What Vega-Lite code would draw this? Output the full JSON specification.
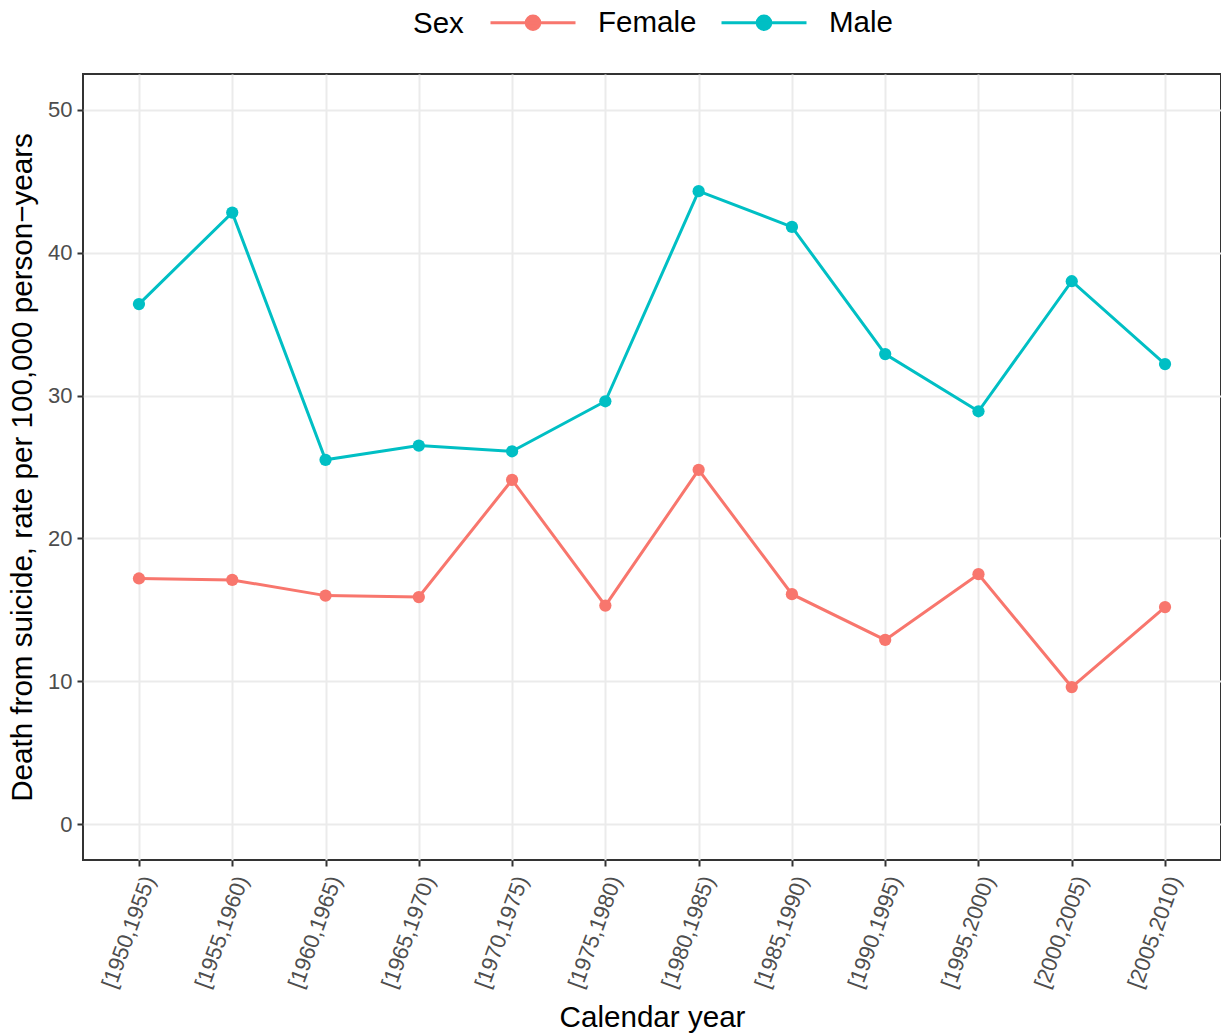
{
  "$schema": "https://vega.github.io/schema/vega-lite/v6.json",
  "autosize": {"type": "none"},
  "padding": {"left": 83, "top": 74, "right": 0, "bottom": 176},
  "width": 1138,
  "height": 786,
  "background": "white",
  "config": {
    "font": "Liberation Sans",
    "view": {"stroke": "#333333", "strokeWidth": 2},
    "axis": {
      "grid": true,
      "gridColor": "#EBEBEB",
      "gridWidth": 2,
      "domain": false,
      "tickColor": "#333333",
      "tickWidth": 2,
      "tickSize": 6,
      "labelColor": "#4D4D4D",
      "labelFontSize": 22,
      "labelFont": "Liberation Sans",
      "titleFont": "Liberation Sans",
      "titleFontSize": 29.6,
      "titleFontWeight": "normal",
      "titleColor": "black"
    }
  },
  "data": {
    "values": [
      {"period": "[1950,1955)", "sex": "Female", "rate": 17.2},
      {"period": "[1955,1960)", "sex": "Female", "rate": 17.1},
      {"period": "[1960,1965)", "sex": "Female", "rate": 16.0},
      {"period": "[1965,1970)", "sex": "Female", "rate": 15.9},
      {"period": "[1970,1975)", "sex": "Female", "rate": 24.1},
      {"period": "[1975,1980)", "sex": "Female", "rate": 15.3},
      {"period": "[1980,1985)", "sex": "Female", "rate": 24.8},
      {"period": "[1985,1990)", "sex": "Female", "rate": 16.1},
      {"period": "[1990,1995)", "sex": "Female", "rate": 12.9},
      {"period": "[1995,2000)", "sex": "Female", "rate": 17.5},
      {"period": "[2000,2005)", "sex": "Female", "rate": 9.6},
      {"period": "[2005,2010)", "sex": "Female", "rate": 15.2},
      {"period": "[1950,1955)", "sex": "Male", "rate": 36.4},
      {"period": "[1955,1960)", "sex": "Male", "rate": 42.8},
      {"period": "[1960,1965)", "sex": "Male", "rate": 25.5},
      {"period": "[1965,1970)", "sex": "Male", "rate": 26.5},
      {"period": "[1970,1975)", "sex": "Male", "rate": 26.1},
      {"period": "[1975,1980)", "sex": "Male", "rate": 29.6},
      {"period": "[1980,1985)", "sex": "Male", "rate": 44.3},
      {"period": "[1985,1990)", "sex": "Male", "rate": 41.8},
      {"period": "[1990,1995)", "sex": "Male", "rate": 32.9},
      {"period": "[1995,2000)", "sex": "Male", "rate": 28.9},
      {"period": "[2000,2005)", "sex": "Male", "rate": 38.0},
      {"period": "[2005,2010)", "sex": "Male", "rate": 32.2}
    ]
  },
  "encoding": {
    "x": {
      "field": "period",
      "type": "ordinal",
      "sort": null,
      "scale": {"type": "point", "padding": 0.6},
      "axis": {
        "title": "Calendar year",
        "grid": true,
        "labelAngle": -70,
        "labelAlign": "right",
        "labelBaseline": "top",
        "labelPadding": 7,
        "titleBaseline": "middle",
        "titleY": 157
      }
    },
    "y": {
      "field": "rate",
      "type": "quantitative",
      "scale": {"domain": [-2.5, 52.5], "nice": false, "zero": false},
      "axis": {
        "title": "Death from suicide, rate per 100,000 person\u2212years",
        "values": [0, 10, 20, 30, 40, 50],
        "labelPadding": 5,
        "titleX": -61,
        "titleBaseline": "middle"
      }
    },
    "color": {
      "field": "sex",
      "type": "nominal",
      "scale": {"domain": ["Female", "Male"], "range": ["#F8766D", "#00BFC4"]},
      "legend": {
        "title": "Sex",
        "orient": "none",
        "direction": "horizontal",
        "legendX": 330,
        "legendY": -95.5,
        "padding": 0,
        "titleOrient": "left",
        "titleAnchor": "middle",
        "titleFontSize": 29.5,
        "titleFontWeight": "normal",
        "titleColor": "black",
        "titlePadding": 25,
        "titleBaseline": "line-top",
        "titleLineHeight": 32,
        "labelFontSize": 29.5,
        "labelColor": "black",
        "labelOffset": 21,
        "columnPadding": 18,
        "symbolType": "M-1,0H1M0.16,0A0.16,0.16 0 1,1 -0.16,0A0.16,0.16 0 1,1 0.16,0Z",
        "symbolSize": 7225,
        "symbolStrokeWidth": 3
      }
    }
  },
  "layer": [
    {"mark": {"type": "line", "strokeWidth": 3}},
    {"mark": {"type": "point", "filled": true, "size": 150, "opacity": 1}}
  ]
}
